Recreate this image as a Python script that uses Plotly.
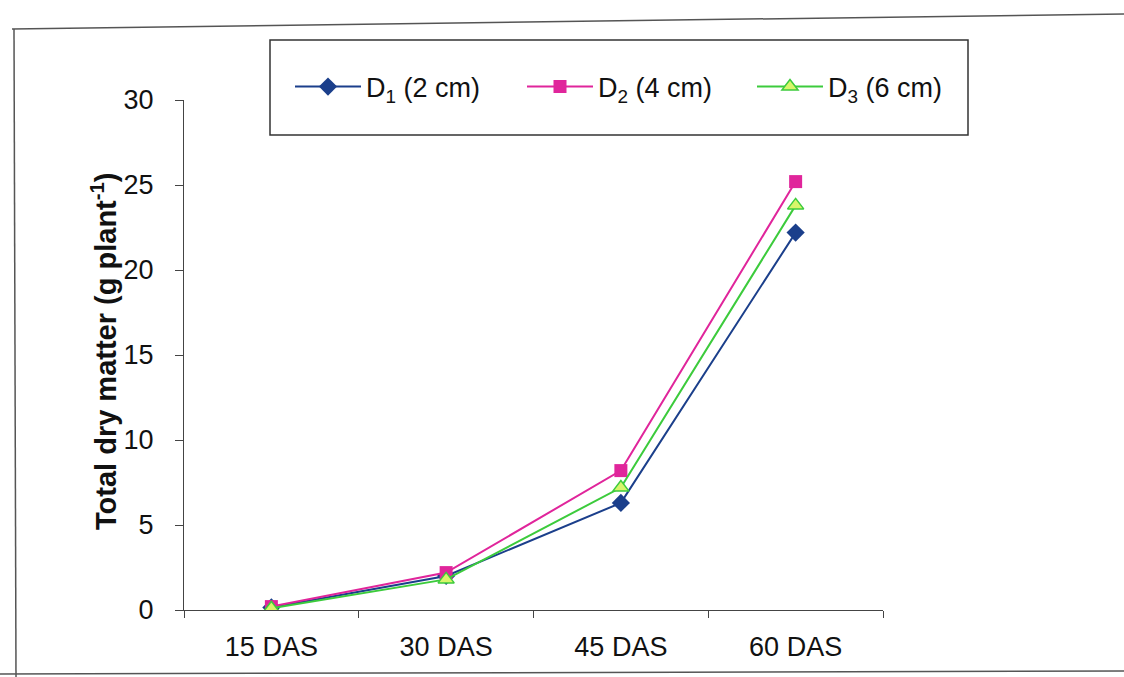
import plotly.graph_objects as go

# Sampling stages (days after sowing)
stages = ["15 DAS", "30 DAS", "45 DAS", "60 DAS"]

# Total dry matter (g plant-1) for each sowing depth
d1_values = [0.15, 2.0, 6.3, 22.2]
d2_values = [0.2, 2.2, 8.2, 25.2]
d3_values = [0.1, 1.8, 7.2, 23.8]

series_names = ["D<sub>1</sub> (2 cm)", "D<sub>2</sub> (4 cm)", "D<sub>3</sub> (6 cm)"]

y_ticks = [0, 5, 10, 15, 20, 25, 30]
y_title = "<b>Total dry matter (g plant<sup>-1</sup>)</b>"

FONT = "Liberation Sans, Arial, sans-serif"
TICK_SIZE = 27

# plot-area geometry in pixels (used to place frame lines in paper coordinates)
W, H = 1124, 677
L, R, T, B = 184, 883, 100, 610


def px_x(px):
    return (px - L) / (R - L)


def px_y(py):
    return (B - py) / (B - T)


fig = go.Figure()

fig.add_trace(go.Scatter(
    x=stages, y=d1_values, name=series_names[0], mode="lines+markers",
    line=dict(color="#1B3F8B", width=2),
    marker=dict(symbol="diamond", size=14, color="#1B3F8B"),
    legend="legend",
))
fig.add_trace(go.Scatter(
    x=stages, y=d2_values, name=series_names[1], mode="lines+markers",
    line=dict(color="#E0259B", width=2),
    marker=dict(symbol="square", size=13, color="#E0259B"),
    legend="legend2",
))
fig.add_trace(go.Scatter(
    x=stages, y=d3_values, name=series_names[2], mode="lines+markers",
    line=dict(color="#3CCB3C", width=2),
    marker=dict(symbol="triangle-up", size=14, color="#D8F56A",
                line=dict(color="#3CCB3C", width=1.5)),
    legend="legend3",
))

shapes = [
    # legend frame
    dict(type="rect", xref="paper", yref="paper",
         x0=px_x(270), x1=px_x(968), y0=px_y(135), y1=px_y(40),
         line=dict(color="#333333", width=1.5), fillcolor="rgba(0,0,0,0)"),
    # outer chart frame
    dict(type="line", xref="paper", yref="paper",
         x0=px_x(12), y0=px_y(29), x1=px_x(1124), y1=px_y(14),
         line=dict(color="#555555", width=1.5)),
    dict(type="line", xref="paper", yref="paper",
         x0=px_x(14), y0=px_y(29), x1=px_x(16), y1=px_y(677),
         line=dict(color="#555555", width=1.5)),
    dict(type="line", xref="paper", yref="paper",
         x0=px_x(0), y0=px_y(674), x1=px_x(1124), y1=px_y(671),
         line=dict(color="#555555", width=1.5)),
]


def legend_box(left_px):
    return dict(
        x=px_x(left_px), y=px_y(87), xanchor="left", yanchor="middle",
        itemwidth=66,
        font=dict(family=FONT, size=27, color="#111111"),
        bgcolor="rgba(0,0,0,0)", borderwidth=0,
    )


fig.update_layout(
    width=W, height=H,
    margin=dict(l=L, r=W - R, t=T, b=H - B, pad=0),
    paper_bgcolor="white", plot_bgcolor="white",
    font=dict(family=FONT, size=TICK_SIZE, color="#111111"),
    showlegend=True,
    legend=legend_box(290),
    legend2=legend_box(522),
    legend3=legend_box(752),
    xaxis=dict(
        type="category", range=[-0.5, 3.5],
        showline=True, linecolor="#444444", linewidth=1.2,
        ticks="outside", tickson="boundaries", ticklen=7, tickcolor="#444444",
        ticklabelstandoff=12,
        showgrid=False, zeroline=False,
        tickfont=dict(family=FONT, size=TICK_SIZE),
    ),
    yaxis=dict(
        range=[0, 30], tickvals=y_ticks,
        showline=True, linecolor="#444444", linewidth=1.2,
        ticks="outside", ticklen=8, tickcolor="#444444",
        ticklabelstandoff=16,
        showgrid=False, zeroline=False,
        tickfont=dict(family=FONT, size=TICK_SIZE),
    ),
    shapes=shapes,
    annotations=[
        # y-axis title
        dict(text=y_title, textangle=-90, showarrow=False,
             xref="paper", yref="paper", x=px_x(104), y=px_y(352),
             xanchor="center", yanchor="middle",
             font=dict(family=FONT, size=29, color="#111111")),
    ],
)

fig.write_html("out.html")
